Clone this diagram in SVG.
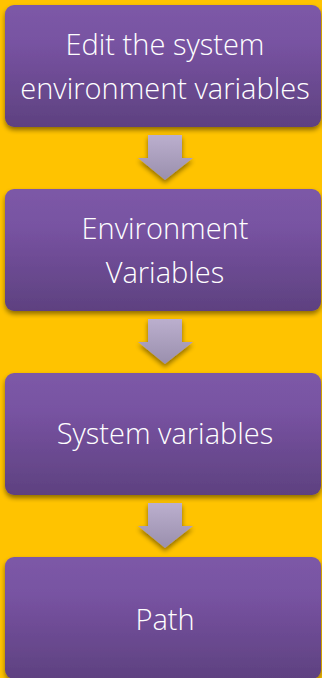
<svg xmlns="http://www.w3.org/2000/svg" width="322" height="678" viewBox="0 0 322 678">
<defs>
<linearGradient id="boxg" x1="0" y1="0" x2="0" y2="1">
<stop offset="0" stop-color="#7C59A7"/>
<stop offset="0.3" stop-color="#7853A2"/>
<stop offset="1" stop-color="#5E4180"/>
</linearGradient>
<linearGradient id="arrg" x1="0" y1="0" x2="0" y2="1">
<stop offset="0" stop-color="#BBAFCE"/>
<stop offset="1" stop-color="#9A8FAD"/>
</linearGradient>
<filter id="sh" x="-10%" y="-10%" width="120%" height="130%">
<feGaussianBlur in="SourceAlpha" stdDeviation="2.5"/>
<feOffset dx="0" dy="3" result="b"/>
<feComponentTransfer><feFuncA type="linear" slope="0.45"/></feComponentTransfer>
<feMerge><feMergeNode/><feMergeNode in="SourceGraphic"/></feMerge>
</filter>
</defs>
<style>
.box{fill:url(#boxg);filter:url(#sh);}
.arr{fill:url(#arrg);filter:url(#sh);}
.t{fill:#FFFFFF;font-family:"Open Sans","Noto Sans","DejaVu Sans",sans-serif;font-size:29px;font-weight:300;text-anchor:middle;}
</style>
<rect x="0" y="0" width="322" height="678" fill="#FFC300"/>
<g id="connectors">
<polygon class="arr" points="148,135 182,135 182,158 193,158 165,180 138,158 148,158"/>
<polygon class="arr" points="148,319 182,319 182,342 193,342 165,364 138,342 148,342"/>
<polygon class="arr" points="148,503 182,503 182,526 193,526 165,548 138,526 148,526"/>
</g>
<g id="node1">
<rect class="box" x="5" y="5" width="316" height="122" rx="9"/>
<text class="t" x="165" y="55">Edit the system</text>
<text class="t" x="165" y="99">environment variables</text>
</g>
<g id="node2">
<rect class="box" x="5" y="189" width="316" height="122" rx="9"/>
<text class="t" x="165" y="239">Environment</text>
<text class="t" x="165" y="283">Variables</text>
</g>
<g id="node3">
<rect class="box" x="5" y="373" width="316" height="122" rx="9"/>
<text class="t" x="165" y="444">System variables</text>
</g>
<g id="node4">
<rect class="box" x="5" y="557" width="316" height="122" rx="9"/>
<text class="t" x="165" y="630">Path</text>
</g>
</svg>
